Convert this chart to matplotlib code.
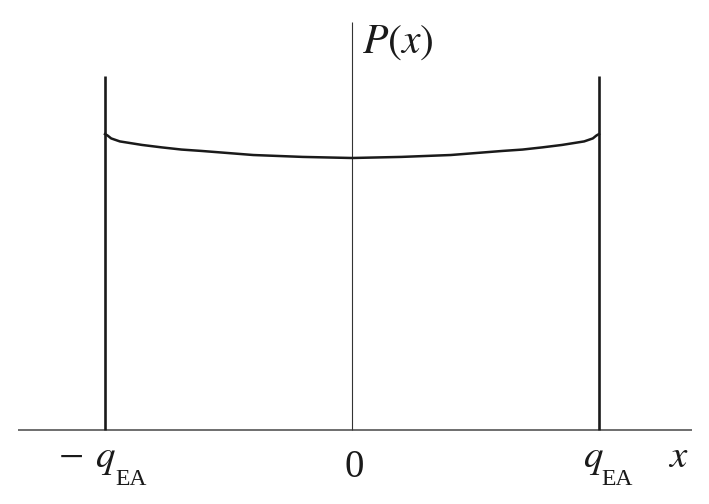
import numpy as np
import matplotlib
matplotlib.use("Agg")
import matplotlib.pyplot as plt

plt.rcParams['mathtext.fontset'] = 'stix'
plt.rcParams['font.family'] = ['Liberation Serif', 'DejaVu Serif']

# right half of the overlap distribution P(x), x in units of q_EA (mirrored on the left)
x_half = [0.0, 0.2, 0.4, 0.61, 0.69, 0.77, 0.85, 0.94, 0.975, 0.99, 1.0]
p_half = [1.000, 1.004, 1.011, 1.026, 1.031, 1.039, 1.048, 1.061, 1.072, 1.083, 1.088]

q_ea = 1.0
delta_top = 1.301   # delta peaks drawn as tall lines
ink = '#1a1a1a'

x_curve = np.concatenate([-np.array(x_half[:0:-1]), x_half])
p_curve = np.concatenate([np.array(p_half[:0:-1]), p_half])

# pixel -> data helpers, only for placing the labels
def X(px): return (px - 352) / 247
def Y(py): return (430 - py) / 272

fig = plt.figure(figsize=(7.09, 5.04), dpi=100)
ax = fig.add_axes([0, 0, 1, 1])
ax.set_xlim(X(0), X(709))
ax.set_ylim(Y(504), Y(0))
ax.axis('off')

# axes
ax.plot([X(18), X(692)], [0, 0], color='#555555', lw=1.2, solid_capstyle='butt')
ax.plot([0, 0], [0, Y(22)], color='#333333', lw=0.8, solid_capstyle='butt')

# delta peaks at +-q_EA
for xv in (-q_ea, q_ea):
    ax.plot([xv, xv], [0, delta_top], color=ink, lw=1.9, solid_capstyle='butt')

# continuous part
ax.plot(x_curve, p_curve, color=ink, lw=1.8, solid_joinstyle='round')

# labels
ax.text(X(71), Y(460), '\u2212', ha='center', va='center', fontsize=32, color=ink)
for qx, sx in ((95, 115), (583, 601)):
    ax.text(X(qx), Y(467), r'$q$', ha='left', va='baseline', fontsize=28, color=ink)
    ax.text(X(sx), Y(485), 'EA', ha='left', va='baseline', fontsize=17, color=ink)
ax.text(X(354), Y(477), '0', ha='center', va='baseline', fontsize=28, color=ink)
ax.text(X(678), Y(467), r'$x$', ha='center', va='baseline', fontsize=28, color=ink)
ax.text(X(362), Y(53), r'$P(x)$', ha='left', va='baseline', fontsize=30, color=ink)

fig.savefig('out.png', dpi=100)
